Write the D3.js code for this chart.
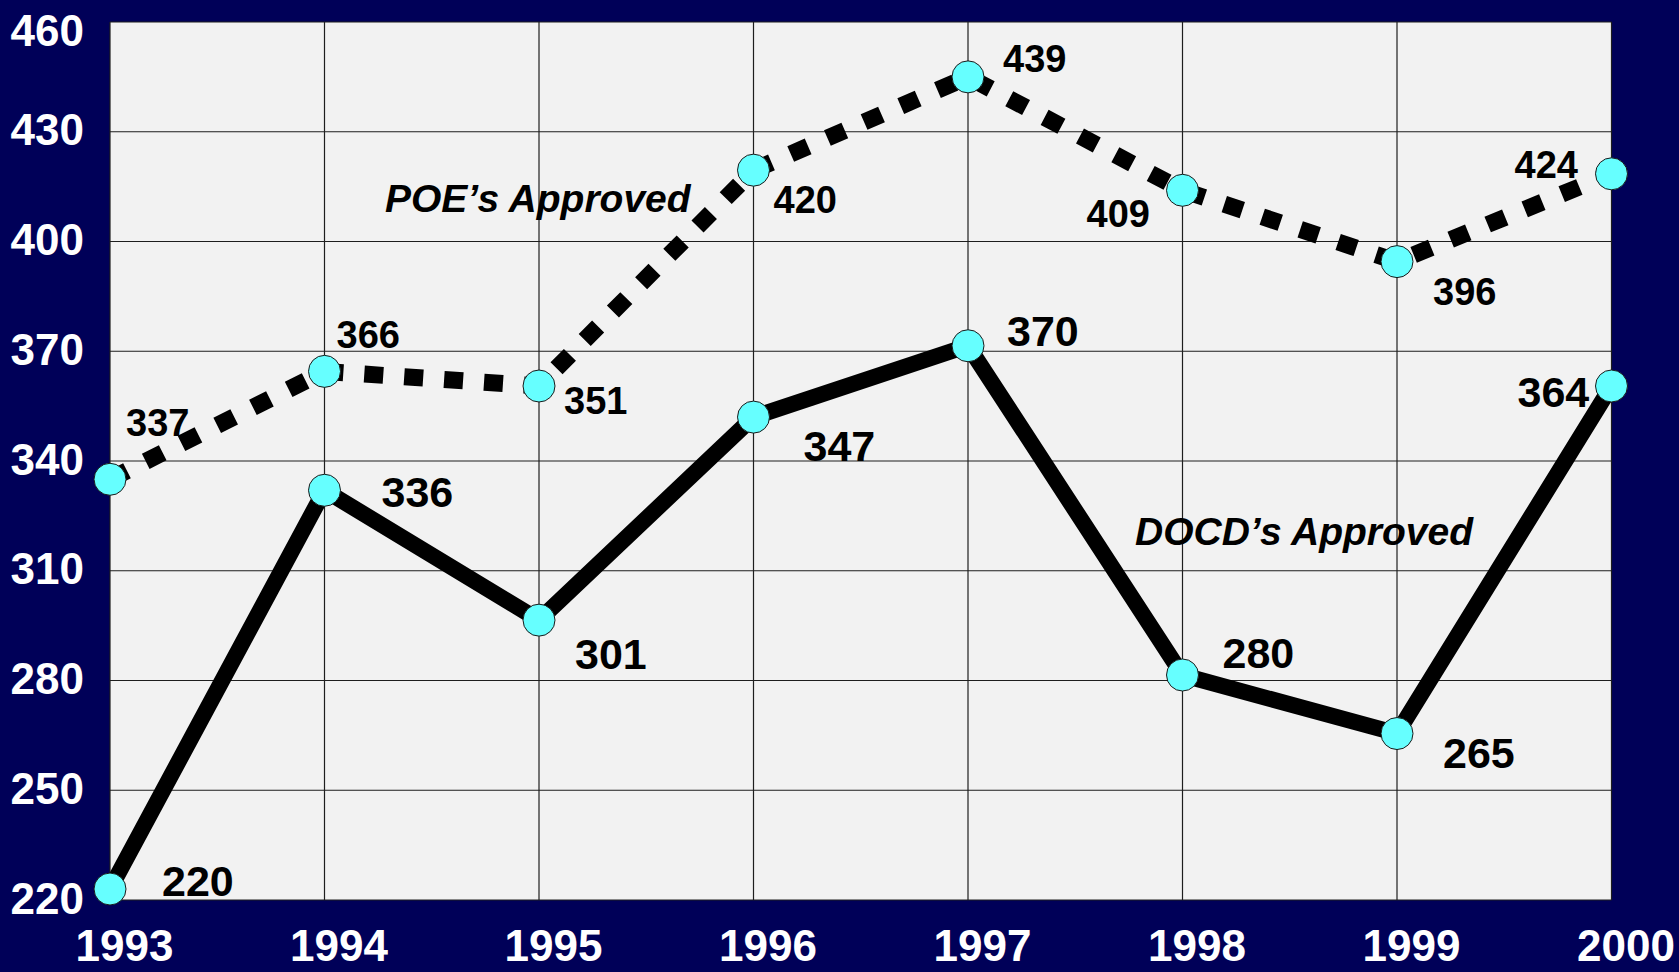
<!DOCTYPE html>
<html>
<head>
<meta charset="utf-8">
<script src="https://cdn.jsdelivr.net/npm/d3@7"></script>
<style>
  html, body { margin: 0; padding: 0; background: #000058; }
  svg { display: block; }
  text { font-family: "Liberation Sans", Arial, sans-serif; font-weight: bold; }
</style>
</head>
<body>
<script>
// chart data
var years = ["1993", "1994", "1995", "1996", "1997", "1998", "1999", "2000"];
var yTicks = [220, 250, 280, 310, 340, 370, 400, 430, 460];

// plotted positions of the points (as drawn) and the printed labels
var poeValues  = [335, 364.5, 360.5, 419.5, 445, 414, 394.5, 418.5];
var poeLabels  = ["337", "366", "351", "420", "439", "409", "396", "424"];
var docdValues = [223, 332, 296.5, 352, 371.5, 281.5, 265.5, 360.5];
var docdLabels = ["220", "336", "301", "347", "370", "280", "265", "364"];

// where each value label sits relative to its point
var poeLabelOffsets  = [[16, -43], [12, -23], [25, 28], [20, 43], [35, -5], [-96, 37], [36, 43], [-97, 4]];
var docdLabelOffsets = [[52, 7], [57, 17], [36, 49], [50, 44], [39, 0], [40, -7], [46, 34], [-94, 21]];

var W = 1679, H = 972;
var plot = {left: 110, right: 1611.5, top: 22, bottom: 900};

var svg = d3.select("body").append("svg")
  .attr("width", W)
  .attr("height", H);

svg.append("rect")
  .attr("width", W).attr("height", H)
  .attr("fill", "#000058");

var x = d3.scalePoint().domain(years).range([plot.left, plot.right]);
var y = d3.scaleLinear().domain([220, 460]).range([plot.bottom, plot.top]);

// plot background
svg.append("rect")
  .attr("x", plot.left).attr("y", plot.top)
  .attr("width", plot.right - plot.left)
  .attr("height", plot.bottom - plot.top)
  .attr("fill", "#f2f2f2");

// grid
var grid = svg.append("g").attr("stroke", "#1e1e1e").attr("stroke-width", 1.2);
grid.selectAll("line.h")
  .data(yTicks)
  .enter().append("line")
  .attr("x1", plot.left).attr("x2", plot.right)
  .attr("y1", function(d) { return y(d); })
  .attr("y2", function(d) { return y(d); });
grid.selectAll("line.v")
  .data(years)
  .enter().append("line")
  .attr("y1", plot.top).attr("y2", plot.bottom)
  .attr("x1", function(d) { return x(d); })
  .attr("x2", function(d) { return x(d); });

// axes
var yAxis = svg.append("g")
  .attr("transform", "translate(" + plot.left + ",0)")
  .call(d3.axisLeft(y).tickValues(yTicks).tickSize(0).tickPadding(26));
yAxis.select(".domain").remove();
yAxis.selectAll("text")
  .attr("fill", "#ffffff")
  .attr("font-size", 44)
  .attr("font-family", null)
  .attr("dy", function(d) { return d == 460 ? 23 : 13; });

var xAxis = svg.append("g")
  .attr("transform", "translate(0," + plot.bottom + ")")
  .call(d3.axisBottom(x).tickSize(0));
xAxis.select(".domain").remove();
xAxis.selectAll("text")
  .attr("fill", "#ffffff")
  .attr("font-size", 44)
  .attr("font-family", null)
  .attr("y", 61)
  .attr("dy", 0)
  .attr("dx", 14);

var line = d3.line()
  .x(function(d, i) { return x(years[i]); })
  .y(function(d) { return y(d); });

// POE's approved - dotted
svg.append("path")
  .datum(poeValues)
  .attr("d", line)
  .attr("fill", "none")
  .attr("stroke", "#000")
  .attr("stroke-width", 17)
  .attr("stroke-dasharray", "19,21");

// DOCD's approved - solid
svg.append("path")
  .datum(docdValues)
  .attr("d", line)
  .attr("fill", "none")
  .attr("stroke", "#000")
  .attr("stroke-width", 16)
  .attr("stroke-linejoin", "miter");

// markers
[poeValues, docdValues].forEach(function(vals) {
  svg.append("g").selectAll("circle")
    .data(vals)
    .enter().append("circle")
    .attr("cx", function(d, i) { return x(years[i]); })
    .attr("cy", function(d) { return y(d); })
    .attr("r", 16)
    .attr("fill", "#66ffff")
    .attr("stroke", "#1a1a1a")
    .attr("stroke-width", 1);
});

// value labels
function addLabels(vals, labels, offsets, size) {
  svg.append("g").selectAll("text")
    .data(vals)
    .enter().append("text")
    .attr("x", function(d, i) { return x(years[i]) + offsets[i][0]; })
    .attr("y", function(d, i) { return y(d) + offsets[i][1]; })
    .attr("font-size", size)
    .attr("fill", "#000")
    .text(function(d, i) { return labels[i]; });
}
addLabels(poeValues, poeLabels, poeLabelOffsets, 38);
addLabels(docdValues, docdLabels, docdLabelOffsets, 43);

// series names
svg.append("text")
  .attr("x", 385).attr("y", 212)
  .attr("font-size", 39)
  .attr("font-style", "italic")
  .text("POE’s Approved");
svg.append("text")
  .attr("x", 1135).attr("y", 545)
  .attr("font-size", 39)
  .attr("font-style", "italic")
  .text("DOCD’s Approved");
</script>
</body>
</html>
